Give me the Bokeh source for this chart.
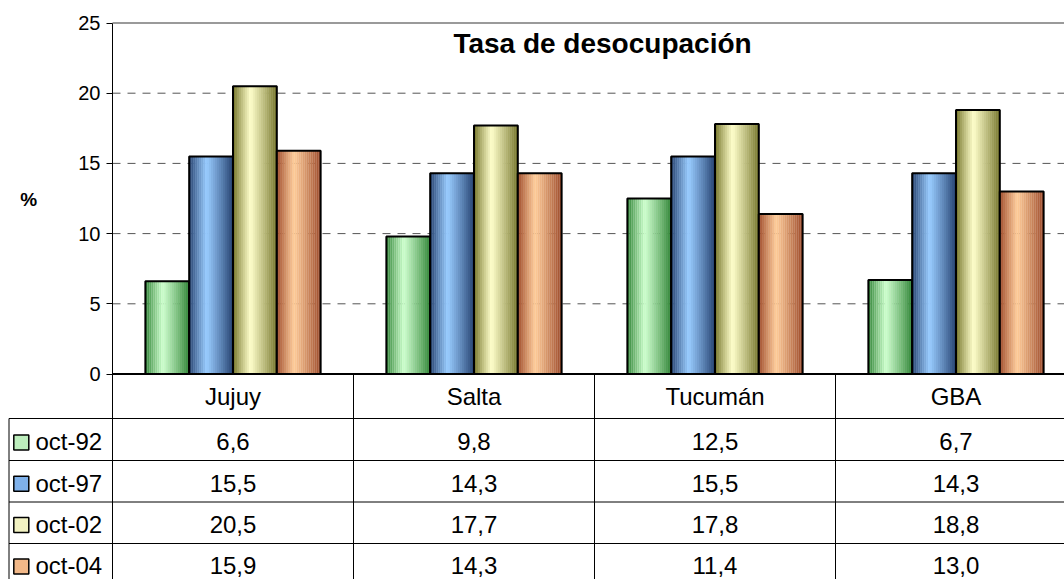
import numpy as np
from bokeh.plotting import figure
from bokeh.models import Range1d, Label, FixedTicker
from bokeh.core.properties import value
from bokeh.embed import file_html
from bokeh.resources import INLINE

# ---------------- data ----------------
categories = ["Jujuy", "Salta", "Tucumán", "GBA"]
series_names = ["oct-92", "oct-97", "oct-02", "oct-04"]
oct92 = [6.6, 9.8, 12.5, 6.7]
oct97 = [15.5, 14.3, 15.5, 14.3]
oct02 = [20.5, 17.7, 17.8, 18.8]
oct04 = [15.9, 14.3, 11.4, 13.0]
series_values = [oct92, oct97, oct02, oct04]
y_ticks = [0, 5, 10, 15, 20, 25]
grid_ticks = [5, 10, 15, 20]
title_text = "Tasa de desocupación"
y_label = "%"

# ---------------- styles / layout ----------------
FONT = "Liberation Sans"
dark_cols = ["#2a8030", "#24406e", "#737328", "#9a4626"]
light_cols = ["#ccffcc", "#99ccff", "#ffffcc", "#ffcc99"]
swatch_cols = ["#bdeebd", "#7fb1ea", "#f2f2c2", "#f2b888"]

WIDTH, HEIGHT = 1064, 579
X0, CAT_PX = 112.0, 241.0      # screen x of first category edge, px per category
Y0, PX = 373.5, 14.04          # screen y of value 0, px per unit
W = 1.0 / 5.5                  # bar width (gap 150%)
NSTRIP = 22


def dx(px):
    return (px - X0) / CAT_PX


def dy(py):
    return (Y0 - py) / PX


def hex2rgb(h):
    h = h.lstrip("#")
    return np.array([int(h[i:i + 2], 16) for i in (0, 2, 4)], dtype=float)


def rgb2hex(c):
    c = np.clip(np.round(c), 0, 255).astype(int)
    return "#%02x%02x%02x" % tuple(c)


X_END = dx(WIDTH)
p = figure(width=WIDTH, height=HEIGHT,
           x_range=Range1d(dx(0), X_END),
           y_range=Range1d(dy(HEIGHT), dy(0)),
           output_backend="svg", toolbar_location=None,
           x_axis_location=None,
           min_border_left=0, min_border_right=0,
           min_border_top=0, min_border_bottom=0)
p.outline_line_color = None
p.background_fill_color = "white"
p.border_fill_color = "white"
p.xgrid.visible = False
p.ygrid.visible = False

ax = p.yaxis[0]
ax.fixed_location = 0
ax.ticker = FixedTicker(ticks=y_ticks)
ax.bounds = (0, 25)
ax.axis_line_color = "black"
ax.axis_line_width = 1
ax.major_tick_out = 6
ax.major_tick_in = 0
ax.major_tick_line_color = "black"
ax.minor_tick_out = 0
ax.minor_tick_in = 0
ax.major_label_text_font = FONT
ax.major_label_text_font_size = "20px"
ax.major_label_text_color = "black"
ax.major_label_standoff = 6
ax.axis_label = y_label
ax.axis_label_orientation = "horizontal"
ax.axis_label_text_font = FONT
ax.axis_label_text_font_style = "bold"
ax.axis_label_text_font_size = "19px"
ax.axis_label_text_color = "black"
ax.axis_label_standoff = 38

# dashed grid lines (only across the plot area)
n_g = len(grid_ticks)
p.segment(x0=[0] * n_g, y0=grid_ticks, x1=[X_END] * n_g, y1=grid_ticks,
          line_color="#555555", line_dash="8 7", line_width=1)

# bars with horizontal shading
n_cat = len(categories)
for s, vals in enumerate(series_values):
    dk = hex2rgb(dark_cols[s])
    lt = hex2rgb(light_cols[s])
    xs, tops, cols = [], [], []
    for i in range(n_cat):
        left = i + 0.5 + (s - 1.5) * W - W / 2
        for k in range(NSTRIP):
            t = (k + 0.5) / NSTRIP
            c0 = 0.40
            d = (t - c0) / (c0 if t < c0 else 1 - c0)
            f = max(0.0, 1 - abs(d)) ** 0.9
            xs.append(left + t * W)
            tops.append(vals[i])
            cols.append(rgb2hex(dk + (lt - dk) * f))
    p.vbar(x=xs, width=W / NSTRIP * 1.08, top=tops, bottom=0,
           fill_color=cols, line_color=None)
    centers = [i + 0.5 + (s - 1.5) * W for i in range(n_cat)]
    p.vbar(x=centers, width=W, top=vals, bottom=0,
           fill_alpha=0, line_color="black", line_width=2)

# plot-area top border and category axis line
p.segment(x0=[0], y0=[25], x1=[X_END], y1=[25], line_color="#9a9a9a", line_width=2)
p.segment(x0=[0], y0=[0], x1=[X_END], y1=[0], line_color="black", line_width=2)

p.add_layout(Label(x=dx(602), y=dy(43), text=title_text,
                   text_align="center", text_baseline="middle",
                   text_font=FONT, text_font_style="bold",
                   text_font_size="28px", text_color="black"))

# ---------------- data table ----------------
row_tops = [418, 460, 501.5, 543]
x_left = dx(8.5)
tb_y = [dy(r) for r in row_tops]
p.segment(x0=[x_left] * len(tb_y), y0=tb_y, x1=[X_END] * len(tb_y), y1=tb_y,
          line_color="black", line_width=1)
vx = [x_left] + list(range(n_cat))
vy0 = [dy(row_tops[0])] + [0] * n_cat
p.segment(x0=vx, y0=vy0, x1=vx, y1=[dy(HEIGHT)] * len(vx),
          line_color="black", line_width=1)

p.text(x=[i + 0.5 for i in range(n_cat)], y=[dy(396)] * n_cat, text=categories,
       text_align="center", text_baseline="middle",
       text_font=value(FONT), text_font_size="24px", text_color="black")

for r, vals in enumerate(series_values):
    labels = [("%.1f" % v).replace(".", ",") for v in vals]
    yc = dy(441.4 + 41.1 * r)
    p.text(x=[i + 0.5 for i in range(n_cat)], y=[yc] * n_cat,
           text=labels, text_align="center", text_baseline="middle",
           text_font=value(FONT), text_font_size="24px", text_color="black")

p.scatter(x=[dx(20.8)] * len(series_names),
          y=[dy(442 + 41.3 * r) for r in range(len(series_names))],
          marker="square", size=15,
          fill_color=swatch_cols, line_color="black", line_width=1.5)
p.text(x=[dx(35)] * len(series_names),
       y=[dy(441.4 + 41.1 * r) for r in range(len(series_names))],
       text=series_names, text_align="left", text_baseline="middle",
       text_font=value(FONT), text_font_size="24px", text_color="black")

open("out.html", "w").write(file_html(p, INLINE))
